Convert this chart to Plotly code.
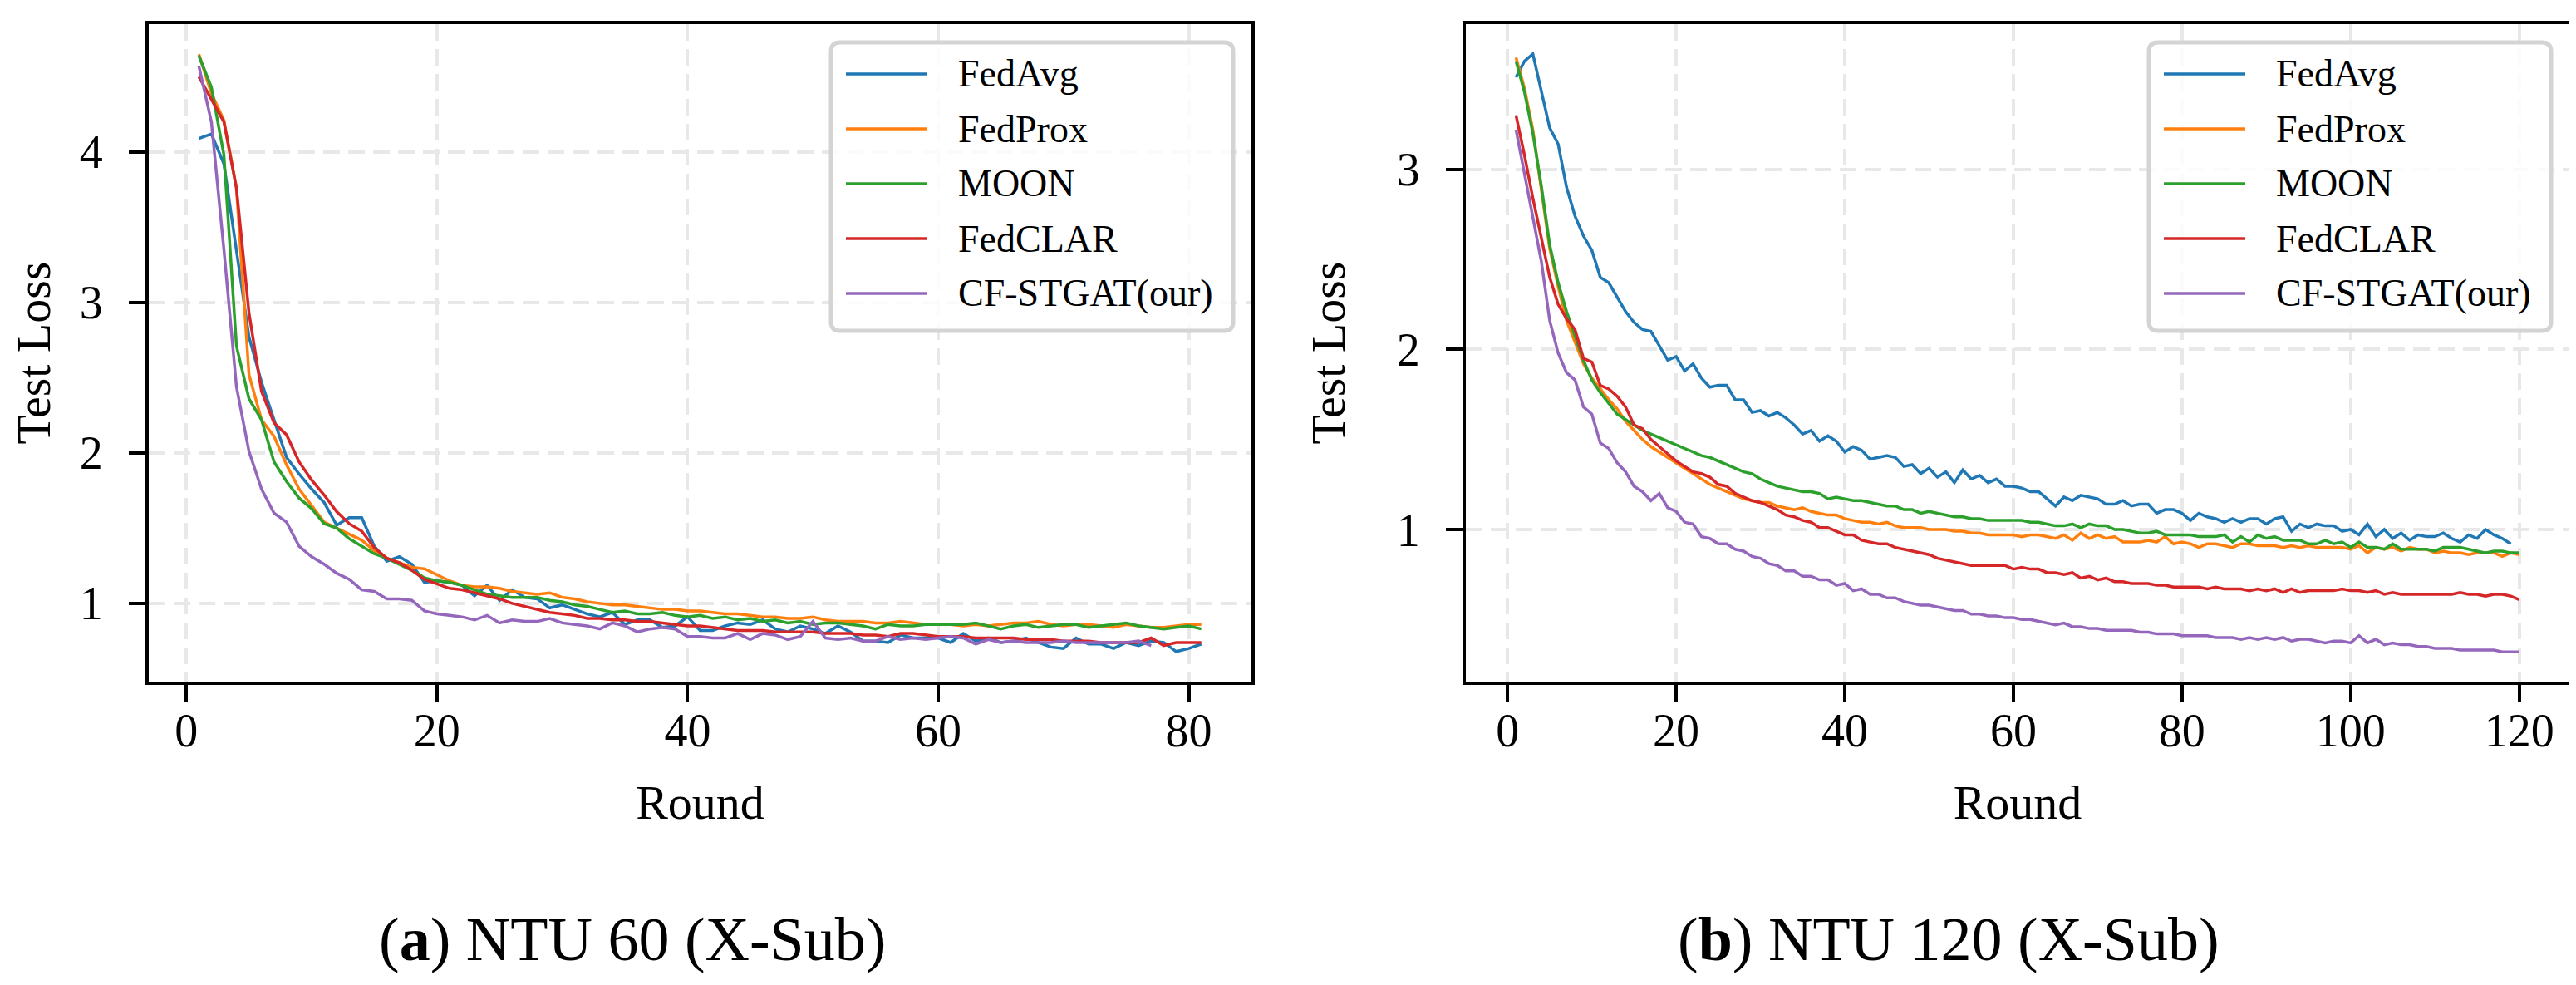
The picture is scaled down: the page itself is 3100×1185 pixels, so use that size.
import plotly.graph_objects as go

# Series names and colours (matplotlib tab10)
METHODS = ["FedAvg", "FedProx", "MOON", "FedCLAR", "CF-STGAT(our)"]
COLORS = ["#1f77b4", "#ff7f0e", "#2ca02c", "#d62728", "#9467bd"]

# ---- (a) NTU 60 (X-Sub): test loss per round ----
ntu60_fedavg = [4.09, 4.12, 3.92, 3.35, 2.77, 2.47, 2.22, 1.97, 1.86, 1.76,
                1.67, 1.52, 1.57, 1.57, 1.38, 1.28, 1.31, 1.26, 1.14, 1.15,
                1.14, 1.12, 1.05, 1.12, 1.02, 1.09, 1.04, 1.03, 0.97, 0.99,
                0.96, 0.93, 0.91, 0.94, 0.86, 0.89, 0.89, 0.84, 0.85, 0.91,
                0.82, 0.82, 0.85, 0.87, 0.86, 0.89, 0.83, 0.81, 0.85, 0.83,
                0.80, 0.85, 0.81, 0.75, 0.75, 0.74, 0.79, 0.77, 0.77, 0.77,
                0.74, 0.80, 0.75, 0.77, 0.74, 0.75, 0.77, 0.74, 0.71, 0.70,
                0.77, 0.73, 0.73, 0.70, 0.74, 0.72, 0.75, 0.74, 0.68, 0.70,
                0.73]
ntu60_fedprox = [4.65, 4.39, 4.21, 3.76, 2.52, 2.22, 2.11, 1.92, 1.76, 1.65,
                 1.54, 1.50, 1.46, 1.42, 1.35, 1.30, 1.27, 1.24, 1.23, 1.19,
                 1.15, 1.12, 1.11, 1.11, 1.10, 1.08, 1.07, 1.06, 1.07, 1.04,
                 1.03, 1.01, 1.00, 0.99, 0.99, 0.98, 0.97, 0.96, 0.96, 0.95,
                 0.95, 0.94, 0.93, 0.93, 0.92, 0.91, 0.91, 0.90, 0.90, 0.91,
                 0.89, 0.88, 0.88, 0.88, 0.87, 0.87, 0.88, 0.87, 0.86, 0.86,
                 0.86, 0.85, 0.86, 0.85, 0.86, 0.87, 0.87, 0.88, 0.86, 0.85,
                 0.86, 0.86, 0.85, 0.84, 0.86, 0.85, 0.84, 0.84, 0.85, 0.86,
                 0.86]
ntu60_moon = [4.64, 4.43, 3.98, 2.71, 2.36, 2.22, 1.94, 1.81, 1.70, 1.63,
              1.53, 1.50, 1.43, 1.38, 1.33, 1.30, 1.26, 1.22, 1.17, 1.15,
              1.14, 1.12, 1.09, 1.06, 1.05, 1.04, 1.04, 1.04, 1.02, 1.01,
              0.99, 0.98, 0.96, 0.94, 0.95, 0.93, 0.93, 0.94, 0.92, 0.91,
              0.92, 0.90, 0.91, 0.89, 0.90, 0.88, 0.89, 0.87, 0.88, 0.86,
              0.87, 0.87, 0.86, 0.85, 0.83, 0.86, 0.85, 0.85, 0.86, 0.86,
              0.86, 0.86, 0.87, 0.85, 0.83, 0.85, 0.86, 0.84, 0.85, 0.86,
              0.86, 0.84, 0.85, 0.86, 0.87, 0.85, 0.84, 0.83, 0.84, 0.85,
              0.83]
ntu60_fedclar = [4.50, 4.35, 4.20, 3.76, 2.93, 2.41, 2.20, 2.12, 1.94, 1.82,
                 1.72, 1.61, 1.53, 1.48, 1.37, 1.30, 1.27, 1.22, 1.16, 1.13,
                 1.10, 1.09, 1.07, 1.05, 1.03, 1.00, 0.98, 0.96, 0.94, 0.93,
                 0.92, 0.90, 0.90, 0.89, 0.89, 0.88, 0.88, 0.87, 0.86, 0.85,
                 0.85, 0.84, 0.83, 0.82, 0.82, 0.82, 0.81, 0.81, 0.81, 0.81,
                 0.80, 0.80, 0.80, 0.79, 0.79, 0.78, 0.80, 0.80, 0.79, 0.78,
                 0.78, 0.78, 0.77, 0.77, 0.77, 0.77, 0.76, 0.76, 0.76, 0.75,
                 0.75, 0.75, 0.74, 0.74, 0.74, 0.74, 0.77, 0.72, 0.74, 0.74,
                 0.74]
ntu60_cfstgat = [4.57, 4.20, 3.35, 2.44, 2.01, 1.76, 1.60, 1.54, 1.38, 1.31,
                 1.26, 1.20, 1.16, 1.09, 1.08, 1.03, 1.03, 1.02, 0.95, 0.93,
                 0.92, 0.91, 0.89, 0.92, 0.87, 0.89, 0.88, 0.88, 0.90, 0.87,
                 0.86, 0.85, 0.83, 0.87, 0.85, 0.81, 0.83, 0.84, 0.83, 0.78,
                 0.78, 0.77, 0.77, 0.80, 0.76, 0.80, 0.79, 0.76, 0.78, 0.88,
                 0.77, 0.76, 0.77, 0.75, 0.75, 0.78, 0.76, 0.77, 0.76, 0.77,
                 0.78, 0.77, 0.73, 0.76, 0.74, 0.75, 0.74, 0.74, 0.74, 0.75,
                 0.74, 0.74, 0.74, 0.74, 0.74, 0.75, 0.72]

# ---- (b) NTU 120 (X-Sub): test loss per round ----
ntu120_fedavg = [3.51, 3.60, 3.64, 3.44, 3.23, 3.14, 2.90, 2.74, 2.63, 2.55,
                 2.40, 2.37, 2.29, 2.21, 2.15, 2.11, 2.10, 2.02, 1.94, 1.96,
                 1.88, 1.92, 1.84, 1.79, 1.80, 1.80, 1.72, 1.72, 1.65, 1.66,
                 1.63, 1.65, 1.62, 1.58, 1.53, 1.55, 1.49, 1.52, 1.49, 1.43,
                 1.46, 1.44, 1.39, 1.40, 1.41, 1.40, 1.35, 1.36, 1.31, 1.34,
                 1.29, 1.32, 1.26, 1.33, 1.28, 1.30, 1.26, 1.28, 1.24, 1.24,
                 1.23, 1.21, 1.21, 1.17, 1.13, 1.18, 1.16, 1.19, 1.18, 1.17,
                 1.14, 1.14, 1.16, 1.13, 1.14, 1.14, 1.09, 1.11, 1.11, 1.09,
                 1.05, 1.09, 1.07, 1.06, 1.04, 1.06, 1.04, 1.06, 1.06, 1.03,
                 1.06, 1.07, 0.99, 1.03, 1.01, 1.03, 1.02, 1.02, 0.99, 1.00,
                 0.97, 1.03, 0.96, 1.00, 0.95, 0.98, 0.94, 0.97, 0.96, 0.96,
                 0.98, 0.95, 0.93, 0.97, 0.95, 1.00, 0.97, 0.95, 0.92]
ntu120_fedprox = [3.62, 3.45, 3.22, 2.89, 2.56, 2.35, 2.16, 2.04, 1.92, 1.84,
                  1.78, 1.72, 1.67, 1.60, 1.55, 1.50, 1.46, 1.43, 1.40, 1.37,
                  1.34, 1.31, 1.28, 1.25, 1.23, 1.21, 1.19, 1.17, 1.16, 1.15,
                  1.15, 1.13, 1.12, 1.11, 1.12, 1.10, 1.09, 1.08, 1.08, 1.06,
                  1.05, 1.04, 1.04, 1.03, 1.04, 1.02, 1.01, 1.01, 1.01, 1.00,
                  1.00, 1.00, 0.99, 0.99, 0.98, 0.98, 0.97, 0.97, 0.97, 0.97,
                  0.96, 0.97, 0.97, 0.96, 0.95, 0.97, 0.94, 0.98, 0.95, 0.97,
                  0.95, 0.96, 0.93, 0.93, 0.93, 0.94, 0.93, 0.96, 0.92, 0.93,
                  0.92, 0.90, 0.92, 0.92, 0.91, 0.90, 0.92, 0.92, 0.91, 0.91,
                  0.91, 0.90, 0.91, 0.90, 0.91, 0.90, 0.90, 0.90, 0.90, 0.89,
                  0.91, 0.87, 0.90, 0.89, 0.90, 0.88, 0.90, 0.89, 0.89, 0.87,
                  0.88, 0.87, 0.87, 0.86, 0.87, 0.87, 0.87, 0.85, 0.87, 0.86]
ntu120_moon = [3.60, 3.43, 3.20, 2.91, 2.58, 2.37, 2.21, 2.07, 1.94, 1.83,
               1.76, 1.70, 1.64, 1.61, 1.58, 1.55, 1.53, 1.51, 1.49, 1.47,
               1.45, 1.43, 1.41, 1.40, 1.38, 1.36, 1.34, 1.32, 1.31, 1.28,
               1.26, 1.24, 1.23, 1.22, 1.21, 1.21, 1.20, 1.17, 1.18, 1.17,
               1.16, 1.16, 1.15, 1.14, 1.13, 1.13, 1.11, 1.11, 1.09, 1.10,
               1.09, 1.08, 1.07, 1.07, 1.06, 1.06, 1.05, 1.05, 1.05, 1.05,
               1.05, 1.04, 1.04, 1.03, 1.02, 1.02, 1.03, 1.01, 1.03, 1.02,
               1.02, 1.00, 1.00, 0.99, 0.98, 0.98, 0.99, 0.97, 0.97, 0.97,
               0.97, 0.96, 0.96, 0.96, 0.97, 0.93, 0.96, 0.93, 0.97, 0.95,
               0.96, 0.94, 0.94, 0.94, 0.92, 0.92, 0.94, 0.92, 0.93, 0.90,
               0.93, 0.90, 0.90, 0.89, 0.92, 0.89, 0.89, 0.89, 0.89, 0.88,
               0.90, 0.90, 0.90, 0.89, 0.88, 0.87, 0.88, 0.88, 0.87, 0.87]
ntu120_fedclar = [3.30, 3.08, 2.84, 2.61, 2.40, 2.25, 2.17, 2.11, 1.95, 1.93,
                  1.80, 1.78, 1.74, 1.68, 1.58, 1.56, 1.50, 1.46, 1.42, 1.38,
                  1.35, 1.32, 1.31, 1.29, 1.25, 1.24, 1.20, 1.18, 1.16, 1.15,
                  1.13, 1.11, 1.08, 1.07, 1.05, 1.04, 1.01, 1.01, 0.99, 0.97,
                  0.97, 0.94, 0.93, 0.92, 0.92, 0.90, 0.89, 0.88, 0.87, 0.86,
                  0.84, 0.83, 0.82, 0.81, 0.80, 0.80, 0.80, 0.80, 0.80, 0.78,
                  0.79, 0.78, 0.78, 0.76, 0.76, 0.75, 0.76, 0.73, 0.74, 0.72,
                  0.73, 0.71, 0.71, 0.70, 0.70, 0.70, 0.69, 0.69, 0.68, 0.68,
                  0.68, 0.68, 0.67, 0.68, 0.67, 0.67, 0.67, 0.66, 0.67, 0.66,
                  0.67, 0.65, 0.67, 0.65, 0.66, 0.66, 0.66, 0.66, 0.67, 0.66,
                  0.66, 0.65, 0.66, 0.64, 0.65, 0.64, 0.64, 0.64, 0.64, 0.64,
                  0.64, 0.64, 0.65, 0.64, 0.64, 0.63, 0.64, 0.64, 0.63, 0.61]
ntu120_cfstgat = [3.22, 2.98, 2.75, 2.49, 2.16, 1.98, 1.87, 1.83, 1.68, 1.64,
                  1.48, 1.45, 1.37, 1.32, 1.24, 1.21, 1.16, 1.20, 1.12, 1.10,
                  1.04, 1.03, 0.96, 0.95, 0.92, 0.92, 0.89, 0.88, 0.85, 0.84,
                  0.81, 0.80, 0.77, 0.77, 0.74, 0.74, 0.72, 0.72, 0.69, 0.70,
                  0.66, 0.67, 0.64, 0.64, 0.62, 0.62, 0.60, 0.59, 0.58, 0.58,
                  0.57, 0.56, 0.55, 0.55, 0.53, 0.53, 0.52, 0.52, 0.51, 0.51,
                  0.50, 0.50, 0.49, 0.48, 0.47, 0.48, 0.46, 0.46, 0.45, 0.45,
                  0.44, 0.44, 0.44, 0.44, 0.43, 0.43, 0.42, 0.42, 0.42, 0.41,
                  0.41, 0.41, 0.41, 0.40, 0.40, 0.40, 0.39, 0.40, 0.39, 0.40,
                  0.39, 0.40, 0.38, 0.39, 0.39, 0.38, 0.37, 0.38, 0.38, 0.37,
                  0.41, 0.37, 0.39, 0.36, 0.37, 0.36, 0.36, 0.35, 0.35, 0.34,
                  0.34, 0.34, 0.33, 0.33, 0.33, 0.33, 0.33, 0.32, 0.32, 0.32]

ntu60 = [ntu60_fedavg, ntu60_fedprox, ntu60_moon, ntu60_fedclar, ntu60_cfstgat]
ntu120 = [ntu120_fedavg, ntu120_fedprox, ntu120_moon, ntu120_fedclar, ntu120_cfstgat]

X_TICKS_60 = [0, 20, 40, 60, 80]
X_TICKS_120 = [0, 20, 40, 60, 80, 100, 120]
Y_TICKS_60 = [1, 2, 3, 4]
Y_TICKS_120 = [1, 2, 3]

CAPTIONS = ["(<b>a</b>) NTU 60 (X-Sub)", "(<b>b</b>) NTU 120 (X-Sub)"]

FONT = "Liberation Serif"
W, H = 3100, 1185
ML, MR, MT, MB = 171, 16, 21, 373
PW, PH = W - ML - MR, H - MT - MB


def px_x(x):
    return (x - ML) / PW


def px_y(y):
    return (H - MB - y) / PH


fig = go.Figure()

for name, color, vals in zip(METHODS, COLORS, ntu60):
    fig.add_trace(go.Scatter(
        x=list(range(1, len(vals) + 1)), y=vals, mode="lines", name=name,
        line=dict(color=color, width=3.5), xaxis="x", yaxis="y"))

for name, color, vals in zip(METHODS, COLORS, ntu120):
    fig.add_trace(go.Scatter(
        x=list(range(1, len(vals) + 1)), y=vals, mode="lines", name=name,
        line=dict(color=color, width=3.5), xaxis="x2", yaxis="y2"))

axis_style = dict(
    showline=True, mirror=True, linecolor="black", linewidth=4,
    ticks="outside", ticklen=20, tickwidth=4, tickcolor="black",
    showgrid=True, gridcolor="#e8e8e8", gridwidth=4, griddash="20px,10px",
    zeroline=False, automargin=False,
    tickfont=dict(family=FONT, size=56, color="black"),
)
title_font = dict(family=FONT, size=58, color="black")

fig.update_layout(
    width=W, height=H,
    margin=dict(l=ML, r=MR, t=MT, b=MB),
    paper_bgcolor="white", plot_bgcolor="white",
    showlegend=False,
    xaxis=dict(axis_style, domain=[0, px_x(1498)], range=[-3, 85],
               tickvals=X_TICKS_60, anchor="y", ticklabelstandoff=-13,
               title=dict(text="Round", font=title_font, standoff=36)),
    yaxis=dict(axis_style, domain=[0, 1], range=[0.48, 4.85],
               tickvals=Y_TICKS_60, anchor="x", ticklabelstandoff=20,
               title=dict(text="Test Loss", font=title_font, standoff=44)),
    xaxis2=dict(axis_style, domain=[px_x(1756), 1], range=[-4.95, 125.95],
                tickvals=X_TICKS_120, anchor="y2", ticklabelstandoff=-13,
                title=dict(text="Round", font=title_font, standoff=36)),
    yaxis2=dict(axis_style, domain=[0, 1], range=[0.155, 3.806],
                tickvals=Y_TICKS_120, anchor="x2", ticklabelstandoff=20,
                title=dict(text="Test Loss", font=title_font, standoff=44)),
)

# legend boxes drawn like matplotlib's (rounded frame, long line handles)
ROW_GAP = 66
for frame_right in (1498, 3084):
    bx1 = frame_right - 22
    bx0 = bx1 - 484
    by0, by1 = 43, 390
    rx, ry = 11 / PW, 11 / PH
    x0, x1, y0, y1 = px_x(bx0), px_x(bx1), px_y(by1), px_y(by0)
    path = (f"M{x0 + rx},{y0} L{x1 - rx},{y0} Q{x1},{y0} {x1},{y0 + ry} "
            f"L{x1},{y1 - ry} Q{x1},{y1} {x1 - rx},{y1} "
            f"L{x0 + rx},{y1} Q{x0},{y1} {x0},{y1 - ry} "
            f"L{x0},{y0 + ry} Q{x0},{y0} {x0 + rx},{y0} Z")
    fig.add_shape(type="path", path=path, xref="paper", yref="paper",
                  fillcolor="rgba(255,255,255,0.8)",
                  line=dict(color="#d4d4d4", width=5))
    for i, (name, color) in enumerate(zip(METHODS, COLORS)):
        ry_px = 81 + ROW_GAP * i
        fig.add_shape(type="line", xref="paper", yref="paper",
                      x0=px_x(bx0 + 18), x1=px_x(bx0 + 116),
                      y0=px_y(ry_px), y1=px_y(ry_px),
                      line=dict(color=color, width=3.5))
        fig.add_annotation(text=name, xref="paper", yref="paper",
                           x=px_x(bx0 + 151), y=px_y(ry_px),
                           xanchor="left", yanchor="middle", showarrow=False,
                           font=dict(family=FONT, size=46, color="black"))

for cap, cx in zip(CAPTIONS, [753, 2337]):
    fig.add_annotation(text=cap, xref="paper", yref="paper",
                       x=px_x(cx), y=px_y(1122), xanchor="center",
                       yanchor="middle", showarrow=False,
                       font=dict(family=FONT, size=74, color="black"))

fig.write_html("out.html")
